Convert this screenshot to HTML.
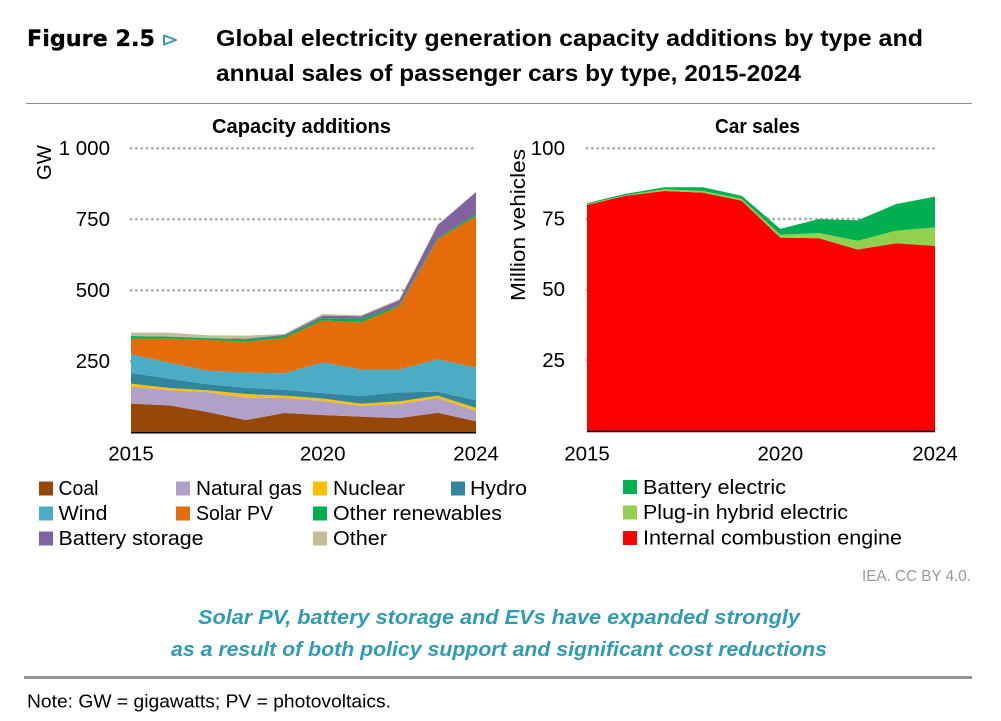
<!DOCTYPE html>
<html lang="en">
<head>
<meta charset="utf-8">
<title>Figure 2.5 Capacity additions and car sales</title>
<style>
html,body{margin:0;padding:0;background:#fff;width:1001px;height:721px;overflow:hidden}
svg{display:block}
text{font-family:"Liberation Sans",sans-serif;fill:#000}
.lg{font-size:20px}
.hd{font-size:23.5px;font-weight:bold}
.sub{font-size:20px;font-weight:bold;fill:#2e9cb5;font-style:italic}
.pt{font-size:20px;font-weight:bold}
</style>
</head>
<body>
<svg id="root" xmlns="http://www.w3.org/2000/svg" width="1001" height="721" viewBox="0 0 1001 721">
  <rect x="0" y="0" width="1001" height="721" fill="#fff"/>

  <text x="27" y="46" style="font-family:'DejaVu Sans','Liberation Sans',sans-serif;font-size:22px;font-weight:bold" stroke="#000" stroke-width="0.3" textLength="128" lengthAdjust="spacingAndGlyphs">Figure 2.5</text>
  <polygon points="164,35.5 176,40 164,44.5" fill="none" stroke="#2e9cb5" stroke-width="2" stroke-linejoin="round"/>
  <text class="hd" x="216" y="46" textLength="707" lengthAdjust="spacingAndGlyphs">Global electricity generation capacity additions by type and</text>
  <text class="hd" x="216" y="81" textLength="585" lengthAdjust="spacingAndGlyphs">annual sales of passenger cars by type, 2015-2024</text>
  <line x1="26" y1="103.5" x2="972" y2="103.5" stroke="#8c8c8c" stroke-width="1"/>

  <text class="pt" x="212" y="133" textLength="179" lengthAdjust="spacingAndGlyphs">Capacity additions</text>
  <text class="pt" x="715" y="133" textLength="85" lengthAdjust="spacingAndGlyphs">Car sales</text>

  <g id="capacity-chart"></g>
  <g id="car-chart"></g>

  <text class="lg" transform="translate(51,180) rotate(-90)" textLength="35" lengthAdjust="spacingAndGlyphs">GW</text>
  <text class="lg" transform="translate(525,301) rotate(-90)" textLength="152" lengthAdjust="spacingAndGlyphs">Million vehicles</text>

  <g>
    <rect x="39" y="481.5" width="14" height="14" fill="#974706"/>
    <text class="lg" x="58.5" y="495" textLength="40" lengthAdjust="spacingAndGlyphs">Coal</text>
    <rect x="176" y="481.5" width="14" height="14" fill="#b1a0c7"/>
    <text class="lg" x="196" y="495" textLength="106" lengthAdjust="spacingAndGlyphs">Natural gas</text>
    <rect x="313" y="481.5" width="14" height="14" fill="#ffc000"/>
    <text class="lg" x="333" y="495" textLength="72" lengthAdjust="spacingAndGlyphs">Nuclear</text>
    <rect x="451" y="481.5" width="14" height="14" fill="#31859c"/>
    <text class="lg" x="470" y="495" textLength="57" lengthAdjust="spacingAndGlyphs">Hydro</text>

    <rect x="39" y="506.5" width="14" height="14" fill="#4bacc6"/>
    <text class="lg" x="58.5" y="520" textLength="49" lengthAdjust="spacingAndGlyphs">Wind</text>
    <rect x="176" y="506.5" width="14" height="14" fill="#e46c0a"/>
    <text class="lg" x="196" y="520" textLength="77" lengthAdjust="spacingAndGlyphs">Solar PV</text>
    <rect x="313" y="506.5" width="14" height="14" fill="#00b050"/>
    <text class="lg" x="333" y="520" textLength="169" lengthAdjust="spacingAndGlyphs">Other renewables</text>

    <rect x="39" y="531.5" width="14" height="14" fill="#8064a2"/>
    <text class="lg" x="58.5" y="545" textLength="145" lengthAdjust="spacingAndGlyphs">Battery storage</text>
    <rect x="313" y="531.5" width="14" height="14" fill="#c4bd97"/>
    <text class="lg" x="333" y="545" textLength="54" lengthAdjust="spacingAndGlyphs">Other</text>
  </g>

  <g>
    <rect x="623" y="480" width="14" height="14" fill="#00b050"/>
    <text class="lg" x="643" y="494" textLength="143" lengthAdjust="spacingAndGlyphs">Battery electric</text>
    <rect x="623" y="505.5" width="14" height="14" fill="#92d050"/>
    <text class="lg" x="643" y="519" textLength="205" lengthAdjust="spacingAndGlyphs">Plug-in hybrid electric</text>
    <rect x="623" y="531" width="14" height="14" fill="#ff0000"/>
    <text class="lg" x="643" y="544.5" textLength="259" lengthAdjust="spacingAndGlyphs">Internal combustion engine</text>
  </g>

  <text x="862" y="581" style="font-size:16px;fill:#9a9a9a" textLength="109" lengthAdjust="spacingAndGlyphs">IEA. CC BY 4.0.</text>

  <text class="sub" x="198" y="624" textLength="602" lengthAdjust="spacingAndGlyphs">Solar PV, battery storage and EVs have expanded strongly</text>
  <text class="sub" x="171" y="656" textLength="656" lengthAdjust="spacingAndGlyphs">as a result of both policy support and significant cost reductions</text>

  <line x1="24" y1="677.5" x2="972" y2="677.5" stroke="#949494" stroke-width="3"/>
  <text x="27" y="707.5" style="font-size:18px" textLength="364" lengthAdjust="spacingAndGlyphs">Note: GW = gigawatts; PV = photovoltaics.</text>
</svg>

<script>
var years = [2015,2016,2017,2018,2019,2020,2021,2022,2023,2024];
var yearLabels = [2015,2020,2024];

var capacityTicks = [250,500,750,1000];
var capacityTickLabels = ['250','500','750','1 000'];
var coal = [101,95,71.5,43,68,61,55,50,69,39];
var naturalGas = [60,53,69.5,79,53,49,38,50,52,36];
var nuclear = [10.5,8,7,13,8,9,8,9,8,11];
var hydro = [37.5,33,21,22,21,19,27,32,14,27];
var wind = [66,56,48,53,58,108.5,93,80,114,115];
var solarPv = [55,85,109,109,124,147.5,166,223,423,534];
var otherRenewables = [9,7,5,8.5,7,8.5,12,4,4,7];
var batteryStorage = [0,0,1,2.5,4,8.5,9.5,17,45,77];
var otherCapacity = [12,14,9.5,10.5,3,5.5,3.5,4,3,0];

var carTicks = [25,50,75,100];
var carTickLabels = ['25','50','75','100'];
var internalCombustion = [80,83.2,84.9,84.3,81.5,68.4,68.2,64.2,66.4,65.5];
var plugInHybrid = [0.3,0.2,0.6,0.6,0.6,1,1.8,3.1,4.5,6.5];
var batteryElectric = [0.3,0.5,0.7,1.3,1.1,2.1,5,7.2,9.4,10.9];

var NS = 'http://www.w3.org/2000/svg';

function capX(year){ return 131 + (year - 2015) * 345 / 9; }
function capY(v){ return 432.3 - v * 0.284; }
function carX(year){ return 587 + (year - 2015) * 348 / 9; }
function carY(v){ return 431 - v * 2.827; }

function drawGrid(parent, ticks, labels, xFn, yFn, labelRight, labelDy, prefix){
  ticks.forEach(function(t, i){
    var line = document.createElementNS(NS, 'line');
    line.setAttribute('x1', xFn(years[0]));
    line.setAttribute('x2', xFn(years[years.length - 1]));
    line.setAttribute('y1', yFn(t));
    line.setAttribute('y2', yFn(t));
    line.setAttribute('stroke', '#a6a6a6');
    line.setAttribute('stroke-width', '2.6');
    line.setAttribute('stroke-linecap', 'round');
    line.setAttribute('stroke-dasharray', '0.1 5.23');
    
    
    parent.appendChild(line);

    var label = document.createElementNS(NS, 'text');
    label.setAttribute('x', labelRight);
    label.setAttribute('y', yFn(t) + labelDy);
    label.setAttribute('text-anchor', 'end');
    label.setAttribute('font-size', '20.5');
    
    
    label.textContent = labels[i];
    parent.appendChild(label);
  });
}

function drawStack(parent, stack, xFn, yFn, prefix){
  var base = years.map(function(){ return 0; });
  stack.forEach(function(s){
    var top = base.map(function(b, i){ return b + s.values[i]; });
    var pts = [];
    years.forEach(function(y, i){ pts.push(xFn(y).toFixed(2) + ',' + yFn(top[i]).toFixed(2)); });
    for (var i = years.length - 1; i >= 0; i--) {
      pts.push(xFn(years[i]).toFixed(2) + ',' + yFn(base[i]).toFixed(2));
    }
    var poly = document.createElementNS(NS, 'polygon');
    poly.setAttribute('points', pts.join(' '));
    poly.setAttribute('fill', s.color);
    
    
    parent.appendChild(poly);
    base = top;
  });
}

function drawAxis(parent, xFn, yFn, prefix){
  var axis = document.createElementNS(NS, 'line');
  axis.setAttribute('x1', xFn(years[0]));
  axis.setAttribute('x2', xFn(years[years.length - 1]));
  axis.setAttribute('y1', yFn(0) + 0.5);
  axis.setAttribute('y2', yFn(0) + 0.5);
  axis.setAttribute('stroke', '#000');
  axis.setAttribute('stroke-width', '1.5');
  
  
  parent.appendChild(axis);

  yearLabels.forEach(function(y){
    var label = document.createElementNS(NS, 'text');
    label.setAttribute('x', xFn(y));
    label.setAttribute('y', 460.5);
    label.setAttribute('text-anchor', 'middle');
    label.setAttribute('font-size', '20.5');
    
    
    label.textContent = String(y);
    parent.appendChild(label);
  });
}

var capacityGroup = document.getElementById('capacity-chart');
drawGrid(capacityGroup, capacityTicks, capacityTickLabels, capX, capY, 110, 6.5, 'capacity');
drawStack(capacityGroup, [
  {name:'coal', color:'#974706', values:coal},
  {name:'natural-gas', color:'#b1a0c7', values:naturalGas},
  {name:'nuclear', color:'#ffc000', values:nuclear},
  {name:'hydro', color:'#31859c', values:hydro},
  {name:'wind', color:'#4bacc6', values:wind},
  {name:'solar-pv', color:'#e46c0a', values:solarPv},
  {name:'other-renewables', color:'#00b050', values:otherRenewables},
  {name:'battery-storage', color:'#8064a2', values:batteryStorage},
  {name:'other', color:'#c4bd97', values:otherCapacity}
], capX, capY, 'capacity');
drawAxis(capacityGroup, capX, capY, 'capacity');

var carGroup = document.getElementById('car-chart');
drawGrid(carGroup, carTicks, carTickLabels, carX, carY, 565, 6.5, 'car');
drawStack(carGroup, [
  {name:'internal-combustion', color:'#ff0000', values:internalCombustion},
  {name:'plug-in-hybrid', color:'#92d050', values:plugInHybrid},
  {name:'battery-electric', color:'#00b050', values:batteryElectric}
], carX, carY, 'car');
drawAxis(carGroup, carX, carY, 'car');
</script>
</body>
</html>
